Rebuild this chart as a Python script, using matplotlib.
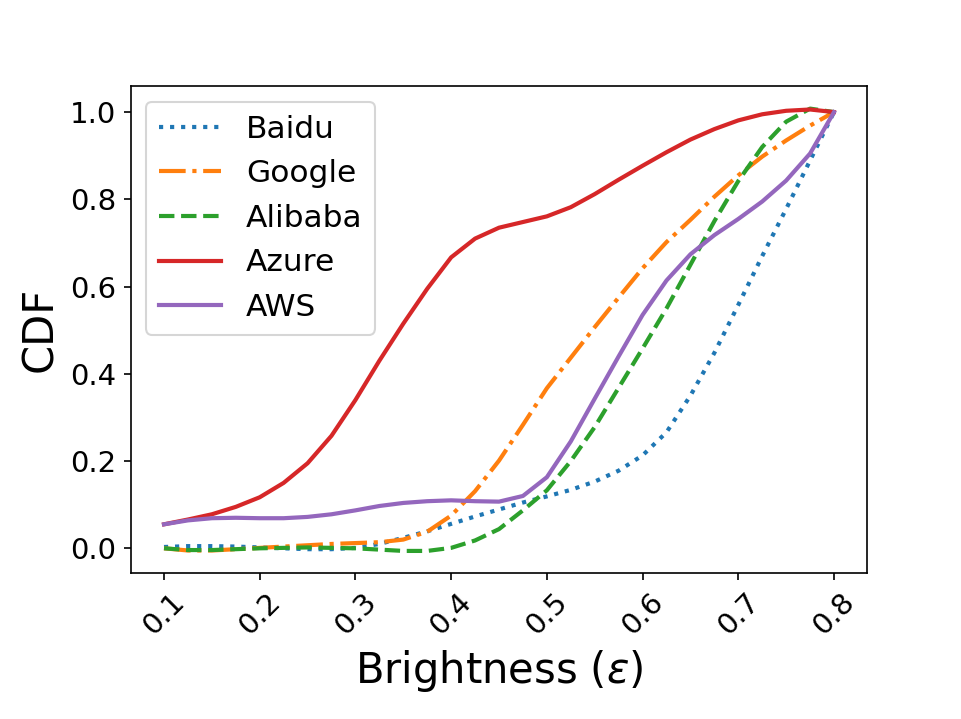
import numpy as np
import matplotlib
matplotlib.use('Agg')
import matplotlib.pyplot as plt

# brightness grid (at 0.025 steps)
brightness = [0.100, 0.125, 0.150, 0.175, 0.200, 0.225, 0.250, 0.275, 0.300, 0.325,
              0.350, 0.375, 0.400, 0.425, 0.450, 0.475, 0.500, 0.525, 0.550, 0.575,
              0.600, 0.625, 0.650, 0.675, 0.700, 0.725, 0.750, 0.775, 0.800]

baidu = [0.003, 0.005, 0.005, 0.004, 0.002, 0.000, -0.002, -0.002, 0.001, 0.010,
         0.024, 0.039, 0.056, 0.073, 0.089, 0.105, 0.119, 0.134, 0.153, 0.178,
         0.213, 0.266, 0.350, 0.448, 0.558, 0.670, 0.778, 0.889, 1.000]

google = [0.000, -0.005, -0.005, -0.002, 0.001, 0.004, 0.007, 0.010, 0.012, 0.014,
          0.020, 0.038, 0.075, 0.131, 0.201, 0.283, 0.367, 0.437, 0.507, 0.575,
          0.642, 0.702, 0.753, 0.806, 0.855, 0.898, 0.935, 0.969, 1.000]

alibaba = [0.000, -0.004, -0.004, -0.002, 0.000, 0.001, 0.002, 0.001, 0.000, -0.003,
           -0.006, -0.006, 0.001, 0.018, 0.044, 0.087, 0.133, 0.200, 0.278, 0.368,
           0.458, 0.550, 0.650, 0.750, 0.842, 0.920, 0.978, 1.008, 1.000]

azure = [0.055, 0.066, 0.078, 0.095, 0.117, 0.150, 0.195, 0.258, 0.340, 0.430,
         0.515, 0.595, 0.667, 0.710, 0.735, 0.748, 0.761, 0.782, 0.812, 0.845,
         0.877, 0.908, 0.937, 0.961, 0.981, 0.995, 1.003, 1.006, 1.000]

aws = [0.055, 0.064, 0.069, 0.070, 0.069, 0.069, 0.072, 0.078, 0.087, 0.097,
       0.104, 0.108, 0.110, 0.108, 0.107, 0.120, 0.163, 0.245, 0.343, 0.440,
       0.535, 0.614, 0.674, 0.718, 0.755, 0.795, 0.843, 0.905, 1.000]

fig = plt.figure(figsize=(961 / 150, 719 / 150), dpi=150)
ax = fig.add_subplot(111)
fig.subplots_adjust(left=0.1358, right=0.9027, top=0.8797, bottom=0.203)

ax.plot(brightness, baidu, ':', color='tab:blue', linewidth=2, label='Baidu')
ax.plot(brightness, google, '-.', color='tab:orange', linewidth=2, label='Google')
ax.plot(brightness, alibaba, '--', color='tab:green', linewidth=2, label='Alibaba')
ax.plot(brightness, azure, '-', color='tab:red', linewidth=2, label='Azure')
ax.plot(brightness, aws, '-', color='tab:purple', linewidth=2, label='AWS')

ax.set_xlabel(r'Brightness ($\epsilon$)', fontsize=20)
ax.set_ylabel('CDF', fontsize=20)
ax.tick_params(labelsize=14)
plt.xticks(rotation=45)
ax.legend(loc='upper left', fontsize=15)

fig.savefig('out.png', dpi=150)
